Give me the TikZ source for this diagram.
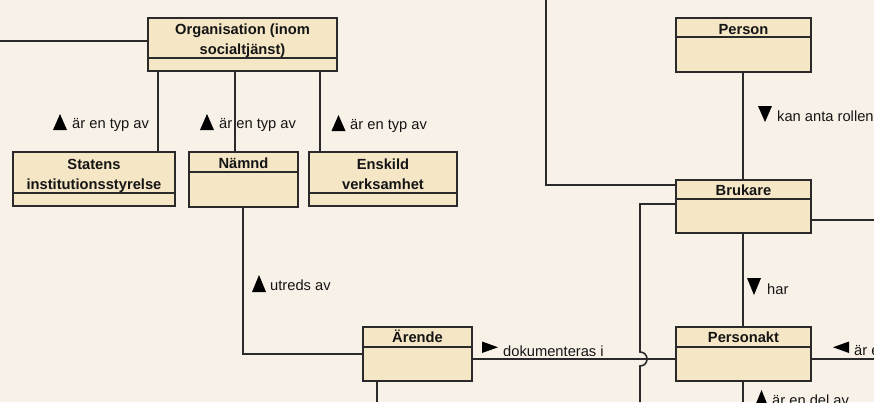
\documentclass[tikz,border=0pt]{standalone}
\usepackage{fontspec}
\setmainfont{Liberation Sans}
\definecolor{bgc}{HTML}{F8F1E8}
\definecolor{boxc}{HTML}{F5E6C6}
\definecolor{linec}{HTML}{2A2A2A}
\definecolor{txtc}{HTML}{151515}
\tikzset{
  umlbox/.style={draw=linec, fill=boxc, line width=1.7pt, inner sep=0pt, rectangle},
  divline/.style={draw=linec, line width=1.7pt},
  title/.style={inner sep=0pt, text=txtc, font=\fontsize{14.7}{20}\selectfont\bfseries},
  lbl/.style={inner sep=0pt, text=txtc, font=\fontsize{14.7}{18}\selectfont},
  conn/.style={draw=linec, line width=1.6pt},
  tri/.style={fill=black},
}
\newcommand\umlclass[8]{%
  \node[umlbox, minimum width={(#4-#2)*1pt}, minimum height={(#5-#3)*1pt}] (#1) at ({(#2+#4)/2},{(#3+#5)/2}) {};
  \draw[divline] (#2,#6) -- (#4,#6);
  \node[title, anchor=base] (#1-t) at ({(#2+#4)/2},#7) {\parbox[t]{200pt}{\centering #8}};
}
% triangles: x1, x2, ytop, ybottom
\newcommand\triup[4]{\fill[tri] (#1,#4) -- (#2,#4) -- ({(#1+#2)/2},#3) -- cycle;}
\newcommand\tridown[4]{\fill[tri] (#1,#3) -- (#2,#3) -- ({(#1+#2)/2},#4) -- cycle;}
\newcommand\triright[4]{\fill[tri] (#1,#3) -- (#1,#4) -- (#2,{(#3+#4)/2}) -- cycle;}
\newcommand\trileft[4]{\fill[tri] (#2,#3) -- (#2,#4) -- (#1,{(#3+#4)/2}) -- cycle;}
\begin{document}
\begin{tikzpicture}[x=1pt, y=-1pt]
\fill[bgc] (0,0) rectangle (874,402);
\clip (0,0) rectangle (874,402);
\useasboundingbox (0,0) rectangle (874,402);

% helper coordinates
\coordinate (cL) at (0,41);
\coordinate (cS) at (158,0);
\coordinate (cN) at (235,0);
\coordinate (cE) at (320,0);
\coordinate (cN2) at (243,0);
\coordinate (cP) at (743,0);
\coordinate (cTop) at (546,0);
\coordinate (cB1) at (0,185);
\coordinate (cB2) at (0,204);
\coordinate (cJx) at (640,0);
\coordinate (cJ) at (640,352);
\coordinate (cJe) at (640,366);
\coordinate (cR1) at (874,220);
\coordinate (cR2) at (874,359);
\coordinate (cD) at (0,359);
\coordinate (cBot) at (0,402);
\coordinate (cA) at (377,0);

% boxes
\umlclass{org}{148}{18}{337}{71}{58}{34.3}{Organisation (inom\\socialtjänst)}
\umlclass{stat}{13}{152}{175}{206}{193}{169}{Statens\\institutionsstyrelse}
\umlclass{namnd}{189}{152}{298}{207}{172}{168.5}{Nämnd}
\umlclass{ensk}{309}{152}{457}{206}{193}{169}{Enskild\\verksamhet}
\umlclass{person}{676}{18}{811}{72}{37}{34}{Person}
\umlclass{brukare}{676}{180}{811}{233}{199}{195.7}{Brukare}
\umlclass{pakt}{676}{327}{811}{381}{347}{342.7}{Personakt}
\umlclass{arende}{363}{327}{472}{381}{347}{342.7}{Ärende}

% connectors
\draw[conn] (cL) -- (org.west |- cL);
\draw[conn] (org.south -| cS) -- (stat.north -| cS);
\draw[conn] (org.south -| cN) -- (namnd.north -| cN);
\draw[conn] (org.south -| cE) -- (ensk.north -| cE);
\draw[conn] (namnd.south -| cN2) -- (cN2 |- arende.west) -- (arende.west);
\draw[conn] (arende.east |- cD) -- (pakt.west |- cD);
\draw[conn] (arende.south -| cA) -- (cA |- cBot);
\draw[conn] (person.south -| cP) -- (brukare.north -| cP);
\draw[conn] (brukare.south -| cP) -- (pakt.north -| cP);
\draw[conn] (pakt.south -| cP) -- (cP |- cBot);
\draw[conn] (cTop) -- (cTop |- cB1) -- (brukare.west |- cB1);
\draw[conn] (brukare.west |- cB2) -- (cJx |- cB2) -- (cJ)
   .. controls +(9.3,0) and +(9.3,0) .. (cJe) -- (cJx |- cBot);
\draw[conn] (brukare.east |- cR1) -- (cR1);
\draw[conn] (pakt.east |- cR2) -- (cR2);

% labels
\triup{53}{67}{114}{130}
\node[lbl, anchor=base west] (l1) at (72,128.5) {är en typ av};
\triup{200}{214}{114}{130}
\node[lbl, anchor=base west] (l2) at (219,128.5) {är en typ av};
\triup{331.5}{345.5}{115}{131}
\node[lbl, anchor=base west] (l3) at (350,129) {är en typ av};
\tridown{758}{772}{106}{122}
\node[lbl, anchor=base west] (l4) at (777,121.5) {kan anta rollen};
\tridown{747}{761}{278}{295}
\node[lbl, anchor=base west] (l5) at (767,294) {har};
\triup{252}{266}{275}{292}
\node[lbl, anchor=base west] (l6) at (270,290.5) {utreds av};
\triright{482}{498}{341.5}{353}
\begin{scope}
  \clip (480,330) rectangle (620,355.5);
  \node[lbl, anchor=base west] (l7) at (503,356) {dokumenteras i};
\end{scope}
\trileft{833}{849}{341.5}{353}
\node[lbl, anchor=base west] (l8) at (854,355) {är e};
\triup{755}{768}{390}{406}
\node[lbl, anchor=base west] (l9) at (772,405) {är en del av};
\end{tikzpicture}
\end{document}
